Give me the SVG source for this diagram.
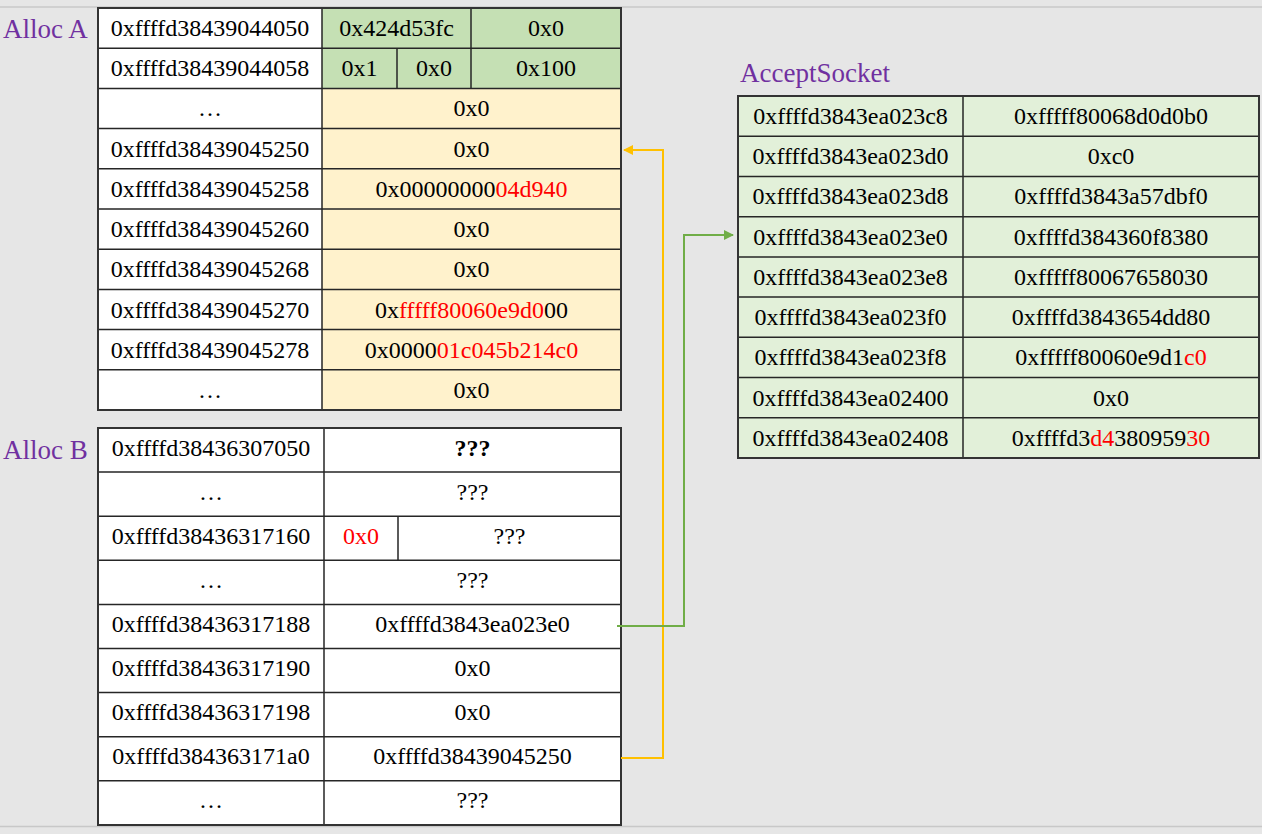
<svg xmlns="http://www.w3.org/2000/svg" width="1262" height="834" viewBox="0 0 1262 834">
<defs>
<style>
.t{font-family:"Liberation Serif","Times New Roman",serif;font-size:24px;fill:#000;text-anchor:middle}
.lbl{font-family:"Liberation Serif","Times New Roman",serif;font-size:27px;fill:#7030a0}
.r{fill:#ff0000}
.b{font-weight:bold}
.w{fill:#ffffff}
.g{fill:#c5e0b4}
.y{fill:#fff2cc}
.s{fill:#e2f0d9}
.grid{stroke:#262626;stroke-width:1.5;fill:none}
.outer{stroke:#333333;stroke-width:2;fill:none}
</style>
<marker id="ay" viewBox="0 0 10 10" refX="9" refY="5" markerWidth="10" markerHeight="10" markerUnits="userSpaceOnUse" orient="auto"><path d="M0,0 L10,5 L0,10 z" fill="#ffc000"/></marker>
<marker id="ag" viewBox="0 0 10 10" refX="9" refY="5" markerWidth="10" markerHeight="10" markerUnits="userSpaceOnUse" orient="auto"><path d="M0,0 L10,5 L0,10 z" fill="#70ad47"/></marker>
</defs>
<rect x="0" y="0" width="1262" height="834" fill="#e6e6e6"/>
<line x1="0" y1="7" x2="1262" y2="7" stroke="#c8c8c8" stroke-width="1.5"/>
<line x1="0" y1="826.5" x2="1262" y2="826.5" stroke="#c8c8c8" stroke-width="1.5"/>

<g id="allocA">
<text class="lbl" x="3" y="38">Alloc A</text>
<rect class="w" x="98" y="8" width="224" height="402"/>
<rect class="g" x="322" y="8" width="299" height="80.4"/>
<rect class="y" x="322" y="88.4" width="299" height="321.6"/>
<path class="grid" d="M98,48.2H621 M98,88.4H621 M98,128.6H621 M98,168.8H621 M98,209H621 M98,249.2H621 M98,289.4H621 M98,329.6H621 M98,369.8H621 M322,8V410 M471,8V88.4 M397,48.2V88.4"/>
<rect class="outer" x="98" y="8" width="523" height="402"/>
<text class="t" x="210" y="36">0xffffd38439044050</text>
<text class="t" x="396.5" y="36">0x424d53fc</text>
<text class="t" x="546" y="36">0x0</text>
<text class="t" x="210" y="76">0xffffd38439044058</text>
<text class="t" x="359.5" y="76">0x1</text>
<text class="t" x="434" y="76">0x0</text>
<text class="t" x="546" y="76">0x100</text>
<text class="t" x="210" y="116">…</text>
<text class="t" x="471.5" y="116">0x0</text>
<text class="t" x="210" y="157">0xffffd38439045250</text>
<text class="t" x="471.5" y="157">0x0</text>
<text class="t" x="210" y="197">0xffffd38439045258</text>
<text class="t" x="471.5" y="197">0x00000000<tspan class="r">04d940</tspan></text>
<text class="t" x="210" y="237">0xffffd38439045260</text>
<text class="t" x="471.5" y="237">0x0</text>
<text class="t" x="210" y="277">0xffffd38439045268</text>
<text class="t" x="471.5" y="277">0x0</text>
<text class="t" x="210" y="318">0xffffd38439045270</text>
<text class="t" x="471.5" y="318">0x<tspan class="r">fffff80060e9d0</tspan>00</text>
<text class="t" x="210" y="358">0xffffd38439045278</text>
<text class="t" x="471.5" y="358">0x0000<tspan class="r">01c045b214c0</tspan></text>
<text class="t" x="210" y="398">…</text>
<text class="t" x="471.5" y="398">0x0</text>
</g>

<g id="allocB">
<text class="lbl" x="3" y="459">Alloc B</text>
<rect class="w" x="98" y="428" width="523" height="397"/>
<path class="grid" d="M98,472.1H621 M98,516.2H621 M98,560.3H621 M98,604.4H621 M98,648.5H621 M98,692.6H621 M98,736.7H621 M98,780.8H621 M324,428V825 M398,516.2V560.3"/>
<rect class="outer" x="98" y="428" width="523" height="397"/>
<text class="t" x="211" y="456">0xffffd38436307050</text>
<text class="t b" x="472.5" y="456">???</text>
<text class="t" x="211" y="500">…</text>
<text class="t" x="472.5" y="500">???</text>
<text class="t" x="211" y="544">0xffffd38436317160</text>
<text class="t r" x="361" y="544">0x0</text>
<text class="t" x="509.5" y="544">???</text>
<text class="t" x="211" y="588">…</text>
<text class="t" x="472.5" y="588">???</text>
<text class="t" x="211" y="632">0xffffd38436317188</text>
<text class="t" x="472.5" y="632">0xffffd3843ea023e0</text>
<text class="t" x="211" y="676">0xffffd38436317190</text>
<text class="t" x="472.5" y="676">0x0</text>
<text class="t" x="211" y="720">0xffffd38436317198</text>
<text class="t" x="472.5" y="720">0x0</text>
<text class="t" x="211" y="764">0xffffd384363171a0</text>
<text class="t" x="472.5" y="764">0xffffd38439045250</text>
<text class="t" x="211" y="808">…</text>
<text class="t" x="472.5" y="808">???</text>
</g>

<g id="acceptSocket">
<text class="lbl" x="740" y="82">AcceptSocket</text>
<rect class="s" x="738" y="96" width="521" height="362"/>
<path class="grid" d="M738,136.2H1259 M738,176.4H1259 M738,216.7H1259 M738,256.9H1259 M738,297.1H1259 M738,337.3H1259 M738,377.6H1259 M738,417.8H1259 M963,96V458"/>
<rect class="outer" x="738" y="96" width="521" height="362"/>
<text class="t" x="850.5" y="124">0xffffd3843ea023c8</text>
<text class="t" x="1111" y="124">0xfffff80068d0d0b0</text>
<text class="t" x="850.5" y="164">0xffffd3843ea023d0</text>
<text class="t" x="1111" y="164">0xc0</text>
<text class="t" x="850.5" y="204">0xffffd3843ea023d8</text>
<text class="t" x="1111" y="204">0xffffd3843a57dbf0</text>
<text class="t" x="850.5" y="245">0xffffd3843ea023e0</text>
<text class="t" x="1111" y="245">0xffffd384360f8380</text>
<text class="t" x="850.5" y="285">0xffffd3843ea023e8</text>
<text class="t" x="1111" y="285">0xfffff80067658030</text>
<text class="t" x="850.5" y="325">0xffffd3843ea023f0</text>
<text class="t" x="1111" y="325">0xffffd3843654dd80</text>
<text class="t" x="850.5" y="365">0xffffd3843ea023f8</text>
<text class="t" x="1111" y="365">0xfffff80060e9d1<tspan class="r">c0</tspan></text>
<text class="t" x="850.5" y="406">0xffffd3843ea02400</text>
<text class="t" x="1111" y="406">0x0</text>
<text class="t" x="850.5" y="446">0xffffd3843ea02408</text>
<text class="t" x="1111" y="446">0xffffd3<tspan class="r">d4</tspan>380959<tspan class="r">30</tspan></text>
</g>

<g id="connectors" fill="none" stroke-width="2">
<path d="M621,758 H663 V150 H624" stroke="#ffc000" marker-end="url(#ay)"/>
<path d="M617,626 H684 V235 H733" stroke="#70ad47" marker-end="url(#ag)"/>
</g>
</svg>
